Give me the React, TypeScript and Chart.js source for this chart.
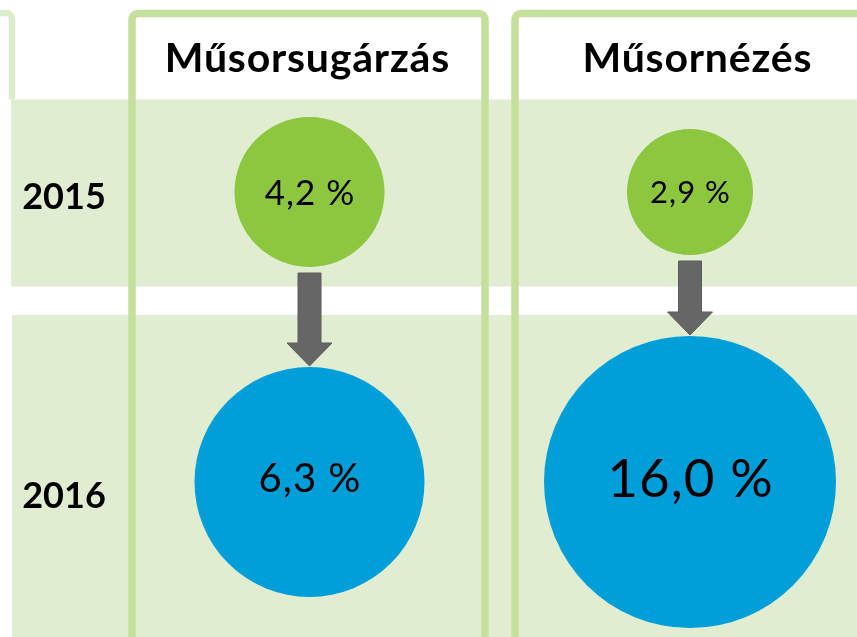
import React, { useEffect, useRef } from 'react';
import { Chart, registerables } from 'chart.js';

Chart.register(...registerables);

// ---- data ----
const categories = ['Műsorsugárzás', 'Műsornézés'];
const years = ['2015', '2016'];
const values2015 = [4.2, 2.9];
const values2016 = [6.3, 16.0];

// ---- styles / sizes (kept apart from the data) ----
const bubbleRadius2015 = [75, 63];
const bubbleRadius2016 = [115, 146];
const valueFont2015 = [35, 31];
const valueFont2016 = [40, 53];
const valueYOffset = [0, -4];
const headerCenters = [307, 697];
const yearLabelX = 64;
const yearBaselines = [209, 508];

const GREEN = '#8DC63F';
const BLUE = '#009FD9';
const BAND = '#E0EDD0';
const BORDER = '#C5DF9C';
const LEFT_BORDER = '#DCEBC9';
const ARROW = '#666666';
const FONT = 'Lato, "Open Sans", "DejaVu Sans", sans-serif';

const W = 857;
const H = 637;

const seriesValues = [values2015, values2016];
const seriesRadius = [bubbleRadius2015, bubbleRadius2016];
const seriesFont = [valueFont2015, valueFont2016];
const seriesColor = [GREEN, BLUE];

const fmt = (v: number) => v.toFixed(1).replace('.', ',') + ' %';

const setSpacing = (ctx: any, px: number) => {
  if ('letterSpacing' in ctx) ctx.letterSpacing = `${px}px`;
};

const decorPlugin = {
  id: 'decor',
  beforeDatasetsDraw(chart: any) {
    const ctx: CanvasRenderingContext2D = chart.ctx;
    const xs = chart.scales.x;
    const ys = chart.scales.y;
    ctx.save();
    ctx.fillStyle = '#ffffff';
    ctx.fillRect(0, 0, W, H);

    // row bands
    ctx.fillStyle = BAND;
    ctx.fillRect(11, 99.5, W - 11, 187);
    ctx.fillRect(12, 315, W - 12, H - 315 + 5);

    // left partial box
    ctx.strokeStyle = LEFT_BORDER;
    ctx.lineWidth = 6.5;
    ctx.beginPath();
    ctx.moveTo(-10, 13);
    ctx.arcTo(12, 13, 12, 99.5, 6);
    ctx.lineTo(12, 99.5);
    ctx.stroke();

    // column boxes
    ctx.strokeStyle = BORDER;
    ctx.lineWidth = 7.5;
    const box = (l: number, r: number) => {
      ctx.beginPath();
      ctx.moveTo(l, H + 10);
      ctx.arcTo(l, 13.5, r, 13.5, 6);
      ctx.arcTo(r, 13.5, r, H + 10, 6);
      ctx.lineTo(r, H + 10);
      ctx.stroke();
    };
    box(132, 485);
    box(515, W + 30);

    // headers
    ctx.fillStyle = '#000000';
    ctx.textAlign = 'center';
    ctx.textBaseline = 'alphabetic';
    ctx.font = `bold 41px ${FONT}`;
    setSpacing(ctx, 0.8);
    categories.forEach((c, i) => ctx.fillText(c, headerCenters[i] + 0.4, 72));

    // year labels
    setSpacing(ctx, 0);
    ctx.font = `bold 36px ${FONT}`;
    years.forEach((y, i) => ctx.fillText(y, yearLabelX, yearBaselines[i]));

    // arrows between the bubbles
    ctx.fillStyle = ARROW;
    ctx.strokeStyle = '#5c5c5c';
    ctx.lineWidth = 1;
    categories.forEach((_, ci) => {
      const cx = xs.getPixelForValue(ci + 1);
      const top = ys.getPixelForValue(0) + bubbleRadius2015[ci] + 6;
      const tip = ys.getPixelForValue(1) - bubbleRadius2016[ci] - 1;
      const headH = 23;
      const headW = 22.5;
      const shaftW = 11.5;
      ctx.beginPath();
      ctx.moveTo(cx - shaftW, top);
      ctx.lineTo(cx + shaftW, top);
      ctx.lineTo(cx + shaftW, tip - headH);
      ctx.lineTo(cx + headW, tip - headH);
      ctx.lineTo(cx, tip);
      ctx.lineTo(cx - headW, tip - headH);
      ctx.lineTo(cx - shaftW, tip - headH);
      ctx.closePath();
      ctx.fill();
      ctx.stroke();
    });
    ctx.restore();
  },
  afterDatasetsDraw(chart: any) {
    const ctx: CanvasRenderingContext2D = chart.ctx;
    ctx.save();
    ctx.fillStyle = '#000000';
    ctx.textAlign = 'center';
    ctx.textBaseline = 'alphabetic';
    setSpacing(ctx, 1);
    chart.data.datasets.forEach((ds: any, yi: number) => {
      const meta = chart.getDatasetMeta(yi);
      meta.data.forEach((el: any, ci: number) => {
        const size = seriesFont[yi][ci];
        ctx.font = `${size}px ${FONT}`;
        const base = el.y + 0.36 * size + valueYOffset[yi];
        ctx.fillText(fmt(seriesValues[yi][ci]), el.x + 0.5, base);
      });
    });
    ctx.restore();
  },
};

export default function App() {
  const ref = useRef<HTMLCanvasElement>(null);
  useEffect(() => {
    const canvas = ref.current!;
    const chart = new Chart(canvas, {
      type: 'bubble',
      data: {
        datasets: years.map((yr, yi) => ({
          label: yr,
          data: categories.map((_, ci) => ({
            x: ci + 1,
            y: yi,
            r: seriesRadius[yi][ci],
          })),
          backgroundColor: seriesColor[yi],
          borderWidth: 0,
          hoverRadius: 0,
          clip: false as any,
        })),
      },
      options: {
        responsive: false,
        animation: false,
        events: [],
        layout: { padding: 0, autoPadding: false },
        plugins: {
          legend: { display: false },
          tooltip: { enabled: false },
        },
        scales: {
          x: { type: 'linear', min: 0.18659, max: 2.43889, display: false },
          y: { type: 'linear', min: -0.66207, max: 1.53448, reverse: true, display: false },
        },
      },
      plugins: [decorPlugin],
    });
    return () => chart.destroy();
  }, []);
  return (
    <div style={{ position: 'fixed', left: 0, top: 0, width: W, height: H, background: '#fff' }}>
      <canvas ref={ref} width={W} height={H} style={{ display: 'block', width: W, height: H }} />
    </div>
  );
}
